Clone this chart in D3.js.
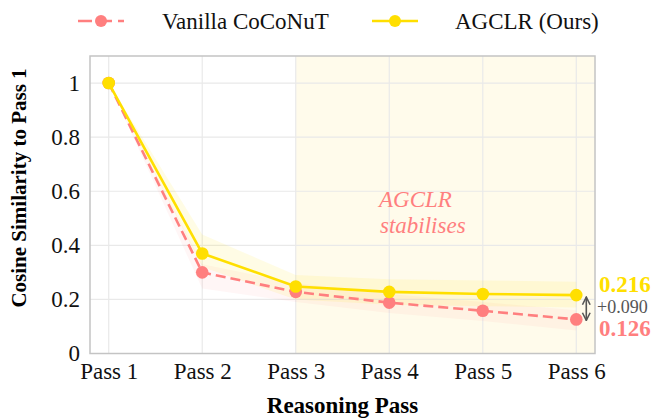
<!DOCTYPE html>
<html>
<head>
<meta charset="utf-8">
<script src="https://cdn.jsdelivr.net/npm/d3@7"></script>
<style>
  body { margin: 0; background: #fff; }
  svg text { font-family: "Liberation Serif", "Times New Roman", serif; }
</style>
</head>
<body>
<div id="chart"></div>
<script>
// data
const passes = [1, 2, 3, 4, 5, 6];
const passLabels = ["Pass 1", "Pass 2", "Pass 3", "Pass 4", "Pass 5", "Pass 6"];
const vanilla = [1, 0.30, 0.228, 0.188, 0.158, 0.126];
const vanillaLo = [1, 0.24, 0.19, 0.15, 0.12, 0.085];
const vanillaHi = [1, 0.33, 0.26, 0.22, 0.19, 0.16];
const agclr = [1, 0.37, 0.248, 0.228, 0.22, 0.216];
const agclrLo = [1, 0.32, 0.20, 0.18, 0.175, 0.17];
const agclrHi = [1, 0.44, 0.29, 0.275, 0.27, 0.265];
const yTicks = [0, 0.2, 0.4, 0.6, 0.8, 1];
const yTickLabels = ["0", "0.2", "0.4", "0.6", "0.8", "1"];
const seriesNames = ["Vanilla CoCoNuT", "AGCLR (Ours)"];

const W = 652, H = 418;
const margin = {left: 90, right: 57, top: 56, bottom: 65};
const pink = "#ff7f7f", yellow = "#ffdf00";

let svg = d3.select("#chart").append("svg")
  .attr("width", W)
  .attr("height", H);

let x = d3.scaleLinear().domain([0.8, 6.2]).range([margin.left, W - margin.right]);
let y = d3.scaleLinear().domain([0, 1.1]).range([H - margin.bottom + 0.5, margin.top]);

let pw = W - margin.left - margin.right;
let ph = y(0) - margin.top;

// shaded "stabilises" region, from pass 3 to the right edge
svg.append("rect")
  .attr("x", x(3))
  .attr("y", margin.top)
  .attr("width", x.range()[1] - x(3))
  .attr("height", ph)
  .attr("fill", "#fffbeb");

// grid
svg.append("g")
  .selectAll("line.hgrid")
  .data(yTicks)
  .enter()
  .append("line")
  .attr("x1", margin.left).attr("x2", margin.left + pw)
  .attr("y1", d => y(d)).attr("y2", d => y(d))
  .attr("stroke", "#e9e9e9").attr("stroke-width", 1.2);

svg.append("g")
  .selectAll("line.vgrid")
  .data(passes)
  .enter()
  .append("line")
  .attr("x1", d => x(d)).attr("x2", d => x(d))
  .attr("y1", margin.top).attr("y2", y(0))
  .attr("stroke", "#e9e9e9").attr("stroke-width", 1.2);

// std bands
let area = (lo, hi) => d3.area()
  .x((d, i) => x(passes[i]))
  .y0((d, i) => y(lo[i]))
  .y1((d, i) => y(hi[i]));

svg.append("path")
  .datum(passes)
  .attr("d", area(vanillaLo, vanillaHi))
  .attr("fill", pink).attr("fill-opacity", 0.07);

svg.append("path")
  .datum(passes)
  .attr("d", area(agclrLo, agclrHi))
  .attr("fill", yellow).attr("fill-opacity", 0.1);

// lines
let line = d3.line()
  .x((d, i) => x(passes[i]))
  .y(d => y(d));

svg.append("path")
  .datum(vanilla)
  .attr("d", line)
  .attr("fill", "none")
  .attr("stroke", pink)
  .attr("stroke-width", 2.6)
  .attr("stroke-dasharray", "10,5");

svg.selectAll("circle.van")
  .data(vanilla)
  .enter()
  .append("circle")
  .attr("cx", (d, i) => x(passes[i]))
  .attr("cy", d => y(d))
  .attr("r", 6.3)
  .attr("fill", pink);

svg.append("path")
  .datum(agclr)
  .attr("d", line)
  .attr("fill", "none")
  .attr("stroke", yellow)
  .attr("stroke-width", 2.6);

svg.selectAll("circle.ag")
  .data(agclr)
  .enter()
  .append("circle")
  .attr("cx", (d, i) => x(passes[i]))
  .attr("cy", d => y(d))
  .attr("r", 6.3)
  .attr("fill", yellow);

// frame
svg.append("rect")
  .attr("x", margin.left)
  .attr("y", margin.top)
  .attr("width", pw)
  .attr("height", ph)
  .attr("fill", "none")
  .attr("stroke", "#c4c4c4")
  .attr("stroke-width", 1.5);

// axes
let yAxis = d3.axisLeft(y)
  .tickValues(yTicks)
  .tickFormat((d, i) => yTickLabels[i])
  .tickSize(0)
  .tickPadding(10);

svg.append("g")
  .attr("transform", "translate(" + margin.left + ",0)")
  .call(yAxis)
  .call(g => g.select(".domain").remove())
  .selectAll("text")
  .attr("font-size", "23px")
  .attr("fill", "#111")
  .attr("font-family", "Liberation Serif, serif");

let xAxis = d3.axisBottom(x)
  .tickValues(passes)
  .tickFormat((d, i) => passLabels[i])
  .tickSize(0)
  .tickPadding(9);

svg.append("g")
  .attr("transform", "translate(0," + y(0) + ")")
  .call(xAxis)
  .call(g => g.select(".domain").remove())
  .selectAll("text")
  .attr("font-size", "23px")
  .attr("fill", "#111")
  .attr("font-family", "Liberation Serif, serif");

// axis titles
svg.append("text")
  .attr("x", margin.left + pw / 2)
  .attr("y", 413)
  .attr("text-anchor", "middle")
  .attr("font-size", "23px")
  .attr("font-weight", "bold")
  .text("Reasoning Pass");

svg.append("text")
  .attr("transform", "translate(26,188) rotate(-90)")
  .attr("text-anchor", "middle")
  .attr("font-size", "21px")
  .attr("font-weight", "bold")
  .text("Cosine Similarity to Pass 1");

// region note
let note = svg.append("text")
  .attr("x", 379)
  .attr("y", 207)
  .attr("font-size", "23px")
  .attr("font-style", "italic")
  .attr("fill", pink);
note.append("tspan").text("AGCLR");
note.append("tspan").attr("x", 380).attr("dy", 26).text("stabilises");

// end-value annotations
let last = passes.length - 1;
svg.append("text")
  .attr("x", x.range()[1] + 4)
  .attr("y", y(agclr[last]) - 3)
  .attr("font-size", "23px")
  .attr("font-weight", "bold")
  .attr("fill", yellow)
  .text(agclr[last].toFixed(3));

svg.append("text")
  .attr("x", x.range()[1] + 4)
  .attr("y", y(vanilla[last]) + 17)
  .attr("font-size", "23px")
  .attr("font-weight", "bold")
  .attr("fill", pink)
  .text(vanilla[last].toFixed(3));

svg.append("text")
  .attr("x", x.range()[1] + 2)
  .attr("y", (y(agclr[last]) + y(vanilla[last])) / 2 + 6)
  .attr("font-size", "18px")
  .attr("fill", "#555")
  .text("+" + (agclr[last] - vanilla[last]).toFixed(3));

// double arrow for the gap
let defs = svg.append("defs");
defs.append("marker")
  .attr("id", "ah")
  .attr("viewBox", "0 0 10 10")
  .attr("refX", 9).attr("refY", 5)
  .attr("markerWidth", 6).attr("markerHeight", 6)
  .attr("orient", "auto-start-reverse")
  .append("path")
  .attr("d", "M1,1 L9,5 L1,9")
  .attr("fill", "none")
  .attr("stroke", "#555")
  .attr("stroke-width", 1.6);

svg.append("line")
  .attr("x1", x(6) + 10).attr("x2", x(6) + 10)
  .attr("y1", y(agclr[last]) + 2)
  .attr("y2", y(vanilla[last]) + 1)
  .attr("stroke", "#555")
  .attr("stroke-width", 1.6)
  .attr("marker-start", "url(#ah)")
  .attr("marker-end", "url(#ah)");

// legend
let legend = svg.append("g");
let legItems = [
  {name: seriesNames[0], color: pink, dash: "14,6", x0: 78, tx: 162},
  {name: seriesNames[1], color: yellow, dash: null, x0: 372, tx: 455}
];
legItems.forEach(function(d) {
  legend.append("line")
    .attr("x1", d.x0).attr("x2", d.x0 + 46)
    .attr("y1", 21).attr("y2", 21)
    .attr("stroke", d.color)
    .attr("stroke-width", 2.6)
    .attr("stroke-dasharray", d.dash);
  legend.append("circle")
    .attr("cx", d.x0 + 23).attr("cy", 21)
    .attr("r", 6)
    .attr("fill", d.color);
  legend.append("text")
    .attr("x", d.tx).attr("y", 29)
    .attr("font-size", "23px")
    .attr("fill", "#111")
    .text(d.name);
});
</script>
</body>
</html>
